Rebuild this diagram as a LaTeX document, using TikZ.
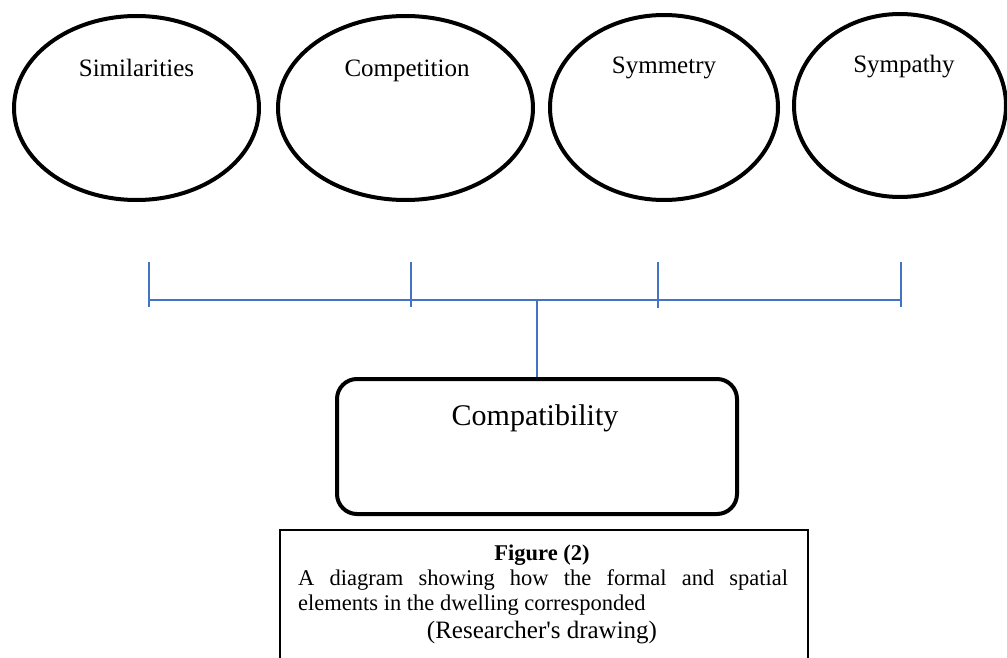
\documentclass[tikz,border=0pt]{standalone}
\usepackage{fontspec}
\setmainfont{Liberation Serif}
\usetikzlibrary{shapes.geometric}
\definecolor{linkblue}{HTML}{4472C4}
\tikzset{
  ell/.style={ellipse, draw=black, line width=4pt, inner sep=0pt},
  lbl/.style={anchor=base, font=\fontsize{25}{30}\selectfont, inner sep=0pt},
  link/.style={draw=linkblue, line width=2pt},
  mainbox/.style={draw=black, line width=4pt, rounded corners=20pt, minimum width=400pt, minimum height=135pt, inner sep=0pt},
  capbox/.style={draw=black, line width=1.5pt, inner sep=0pt},
  captext/.style={inner sep=0pt, font=\fontsize{22.5}{27}\selectfont},
}
\begin{document}
\begin{tikzpicture}[x=1pt,y=-1pt]
\useasboundingbox (0,0) rectangle (1007,658);
% ellipses
\node[ell, minimum width=245pt, minimum height=184pt] (e1) at (136.5,108) {};
\node[ell, minimum width=255pt, minimum height=184pt] (e2) at (405.5,108) {};
\node[ell, minimum width=228pt, minimum height=185pt] (e3) at (664,107.5) {};
\node[ell, minimum width=212pt, minimum height=183pt] (e4) at (900,105.5) {};
\node[lbl] (t1) at (136.5,77) {Similarities};
\node[lbl] (t2) at (407,77) {Competition};
\node[lbl] (t3) at (664,74) {Symmetry};
\node[lbl] (t4) at (904,73) {Sympathy};
% connector coordinates
\coordinate (v1t) at (149,262); \coordinate (v1b) at (149,307);
\coordinate (v2t) at (411,262); \coordinate (v2b) at (411,307);
\coordinate (v3t) at (658,262); \coordinate (v3b) at (658,308);
\coordinate (v4t) at (901,262); \coordinate (v4b) at (901,307);
\coordinate (h1) at (149,300); \coordinate (h4) at (901,300);
\coordinate (hm) at (537,300);
% main box
\node[mainbox] (mb) at (537,446.5) {};
\node[anchor=base, inner sep=0pt, font=\fontsize{30}{36}\selectfont] (mt) at (535,425) {Compatibility};
% connectors
\draw[link] (v1t) -- (v1b);
\draw[link] (v2t) -- (v2b);
\draw[link] (v3t) -- (v3b);
\draw[link] (v4t) -- (v4b);
\draw[link] (h1) -- (h4);
\draw[link] (hm) -- (mb.north);
% caption box
\node[capbox, anchor=north west, minimum width=528pt, minimum height=150pt] (cap) at (279,529) {};
\node[captext, anchor=base, font=\fontsize{22.5}{27}\selectfont\bfseries] (fig) at (542,560) {Figure (2)};
\node[captext, anchor=base west] (c1) at (298,585) {\makebox[490pt][s]{A diagram showing how the formal and spatial}};
\node[captext, anchor=base west] (c2) at (298,610) {elements in the dwelling corresponded};
\node[anchor=base, inner sep=0pt, font=\fontsize{25}{30}\selectfont] (c3) at (542,638) {(Researcher\textquotesingle s drawing)};
\end{tikzpicture}
\end{document}
